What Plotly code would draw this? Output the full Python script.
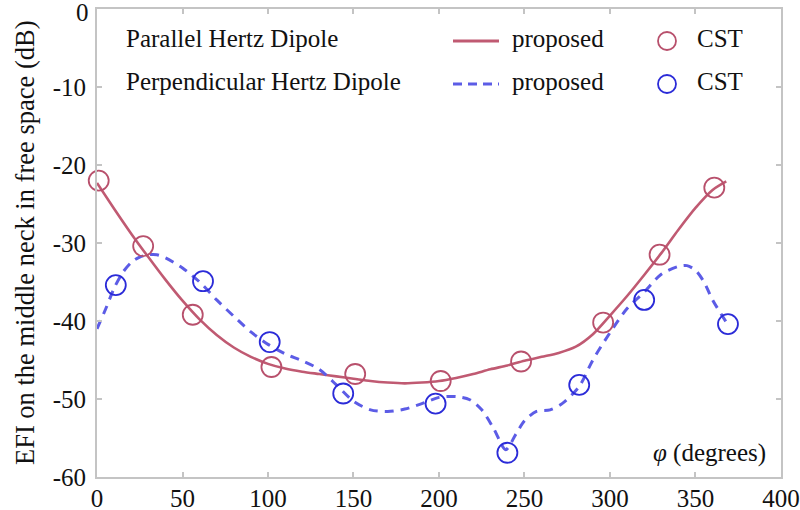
import plotly.graph_objects as go

# ---------------- data ----------------
red_line_x = [0, 10, 20, 30, 40, 50, 60, 70, 80, 90, 100, 110, 120, 130, 140, 150, 160, 170, 180,
              190, 200, 210, 220, 230, 240, 250, 260, 270, 280, 290, 300, 310, 320, 330, 340, 350, 360, 368]
red_line_y = [-22.3, -25.6, -28.8, -31.8, -34.7, -37.4, -39.8, -41.8, -43.4, -44.6, -45.5, -46.1, -46.5,
              -46.8, -47.1, -47.4, -47.7, -47.9, -48.0, -47.9, -47.7, -47.3, -46.8, -46.2, -45.7, -45.1,
              -44.6, -44.1, -43.3, -41.7, -39.3, -36.8, -34.1, -31.3, -28.3, -25.5, -23.2, -22.1]

red_cst_x = [1, 27, 56, 102, 151, 201, 248, 296, 329, 361]
red_cst_y = [-22.0, -30.4, -39.2, -45.9, -46.8, -47.7, -45.2, -40.2, -31.5, -22.9]

blue_line_x = [0, 5, 10, 15, 20, 25, 30, 35, 40, 50, 60, 70, 80, 90, 100, 110, 120, 130, 140, 150, 160,
               170, 180, 190, 200, 210, 218, 225, 232, 239, 245, 250, 257, 265, 272, 282, 290, 300, 310,
               320, 330, 340, 345, 350, 355, 360, 369]
blue_line_y = [-41.0, -38.5, -35.8, -33.8, -32.5, -31.8, -31.5, -31.5, -31.9, -33.2, -35.0, -37.3, -39.4,
               -41.4, -43.0, -44.2, -45.1, -46.2, -48.2, -50.3, -51.4, -51.6, -51.3, -50.6, -49.8, -49.7,
               -50.1, -51.4, -53.8, -56.5, -54.5, -52.8, -51.6, -51.4, -50.6, -48.4, -45.0, -41.5, -38.4,
               -36.3, -34.0, -33.0, -32.9, -33.5, -35.0, -37.3, -40.5]

blue_cst_x = [11, 62, 101, 144, 198, 240, 282, 320, 369]
blue_cst_y = [-35.4, -34.9, -42.7, -49.3, -50.6, -56.9, -48.2, -37.3, -40.4]

x_ticks = [0, 50, 100, 150, 200, 250, 300, 350, 400]
y_ticks = [0, -10, -20, -30, -40, -50, -60]

y_title = "EFI on the middle neck in free space (dB)"
x_label = "<i>φ</i> (degrees)"
row_labels = ["Parallel Hertz Dipole", "Perpendicular Hertz Dipole"]
line_label = "proposed"
marker_label = "CST"

# ---------------- styles ----------------
RED_LINE = "#c05a72"
RED_MK = "#b8506c"
BLUE_LINE = "#5c5ce6"
BLUE_MK = "#2b2bd8"
AXIS = "#c4c4c4"
FONT = "Times New Roman, Liberation Serif, serif"
FS = 25

W, H = 800, 510
L, R, T, B = 97, 781, 9, 477


def px(x):
    return (x - L) / (R - L)


def py(y):
    return (B - y) / (B - T)


fig = go.Figure()
fig.add_trace(go.Scatter(x=red_line_x, y=red_line_y, mode="lines",
                         line=dict(color=RED_LINE, width=2.6, shape="spline", smoothing=0.8),
                         showlegend=False))
fig.add_trace(go.Scatter(x=blue_line_x, y=blue_line_y, mode="lines",
                         line=dict(color=BLUE_LINE, width=3, dash="9px,7px", shape="spline", smoothing=0.8),
                         showlegend=False))
fig.add_trace(go.Scatter(x=red_cst_x, y=red_cst_y, mode="markers",
                         marker=dict(symbol="circle-open", size=20, color=RED_MK, line=dict(width=1.8)),
                         showlegend=False, cliponaxis=False))
fig.add_trace(go.Scatter(x=blue_cst_x, y=blue_cst_y, mode="markers",
                         marker=dict(symbol="circle-open", size=20, color=BLUE_MK, line=dict(width=1.8)),
                         showlegend=False, cliponaxis=False))

axis_common = dict(showgrid=False, zeroline=False, showline=True, linecolor=AXIS, linewidth=2,
                   mirror="ticks", ticks="inside", ticklen=5, tickcolor=AXIS, tickwidth=1.5,
                   tickfont=dict(family=FONT, size=FS, color="#111"))

fig.update_xaxes(range=[0, 400.01], tickvals=x_ticks, ticktext=[str(v) for v in x_ticks],
                 ticklabelstandoff=-2, **axis_common)
fig.update_yaxes(range=[-60.01, 0.01], tickvals=y_ticks,
                 ticktext=["" if v == 0 else str(v) for v in y_ticks],
                 ticklabelstandoff=4, **axis_common)

annotations = [
    # top y tick label (plotly drops the label at the very top edge)
    dict(x=px(91), y=py(13), xref="paper", yref="paper", text=str(y_ticks[0]), showarrow=False,
         font=dict(family=FONT, size=FS, color="#111"), xanchor="right", yanchor="middle"),
    dict(x=px(25), y=py(243), xref="paper", yref="paper", text=y_title, textangle=-90,
         showarrow=False, font=dict(family=FONT, size=26.5, color="#111"), xanchor="center", yanchor="middle"),
    dict(x=px(768), y=py(453), xref="paper", yref="paper", text=x_label, showarrow=False,
         font=dict(family=FONT, size=FS, color="#111"), xanchor="right", yanchor="middle"),
]
shapes = []
rows_y = [38, 81]
line_cols = [RED_LINE, BLUE_LINE]
mk_cols = [RED_MK, BLUE_MK]
for i, ry in enumerate(rows_y):
    annotations.append(dict(x=px(124), y=py(ry), xref="paper", yref="paper", text=row_labels[i],
                            showarrow=False, font=dict(family=FONT, size=FS, color="#111"),
                            xanchor="left", yanchor="middle"))
    annotations.append(dict(x=px(510), y=py(ry), xref="paper", yref="paper", text=line_label,
                            showarrow=False, font=dict(family=FONT, size=FS, color="#111"),
                            xanchor="left", yanchor="middle"))
    annotations.append(dict(x=px(695), y=py(ry), xref="paper", yref="paper", text=marker_label,
                            showarrow=False, font=dict(family=FONT, size=FS, color="#111"),
                            xanchor="left", yanchor="middle"))
    shapes.append(dict(type="line", xref="paper", yref="paper", x0=px(453), x1=px(499),
                       y0=py(ry + 3), y1=py(ry + 3),
                       line=dict(color=line_cols[i], width=3, dash="9px,6px" if i else "solid")))
    shapes.append(dict(type="circle", xref="paper", yref="paper", x0=px(658), x1=px(676),
                       y0=py(ry + 12), y1=py(ry - 6), line=dict(color=mk_cols[i], width=1.8)))

fig.update_layout(width=W, height=H,
                  margin=dict(l=L, r=W - R, t=T, b=H - B, autoexpand=False),
                  paper_bgcolor="white", plot_bgcolor="white",
                  font=dict(family=FONT),
                  annotations=annotations, shapes=shapes)

fig.write_html("out.html", config={"displayModeBar": False},
               post_script="document.body.style.margin='0';document.body.style.overflow='hidden';")
